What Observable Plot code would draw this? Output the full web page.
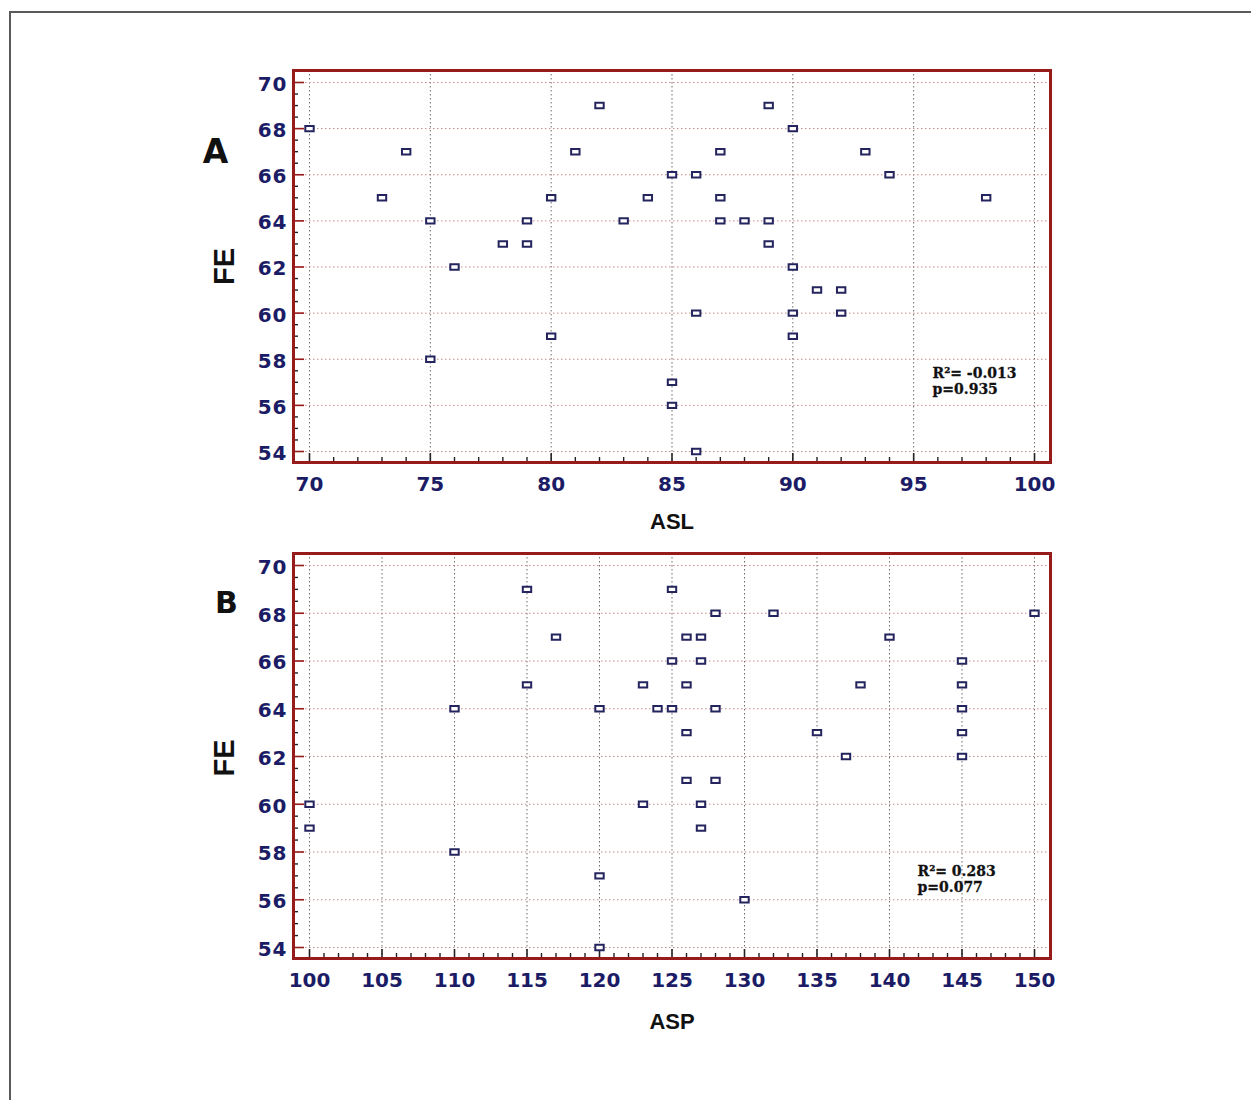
<!DOCTYPE html>
<html>
<head>
<meta charset="utf-8">
<script src="https://cdn.jsdelivr.net/npm/d3@7"></script>
<script src="https://cdn.jsdelivr.net/npm/@observablehq/plot@0.6"></script>
<style>
  html, body { margin: 0; padding: 0; background: #fff; }
  #wrap { position: relative; width: 1251px; height: 1100px; overflow: hidden; }
  #a { position: absolute; left: 0; top: 0; }
  #b { position: absolute; left: 0; top: 540px; }
  #border { position: absolute; left: 9px; top: 11px; right: 0; bottom: 0;
            border-top: 2px solid #5a5a5a; border-left: 2px solid #5a5a5a; pointer-events: none; }
  g[aria-label="y-axis tick label"] text { letter-spacing: 1px; }
</style>
</head>
<body>
<div id="wrap">
  <div id="a"></div>
  <div id="b"></div>
  <div id="border"></div>
</div>
<script>
// Panel A: ASL vs FE
const aslA = [70,73,74,75,75,76,78,79,79,80,80,81,82,83,84,85,85,85,86,86,86,87,87,87,88,89,89,89,90,90,90,90,91,92,92,93,94,98];
const feA  = [68,65,67,64,58,62,63,64,63,65,59,67,69,64,65,66,57,56,66,60,54,67,65,64,64,69,64,63,68,62,60,59,61,61,60,67,66,65];
// Panel B: ASP vs FE
const aspB = [100,100,110,110,115,115,117,120,120,120,123,123,124,125,125,125,126,126,126,126,127,127,127,127,128,128,128,130,132,135,137,138,140,145,145,145,145,145,150];
const feB  = [60,59,64,58,69,65,67,64,57,54,65,60,64,69,66,64,67,65,63,61,67,66,60,59,68,64,61,56,68,63,62,65,67,66,65,64,63,62,68];

const yTicks  = [54,56,58,60,62,64,66,68,70];
const xTicksA = [70,75,80,85,90,95,100];
const xTicksB = [100,105,110,115,120,125,130,135,140,145,150];
const panelLetters = ["A", "B"];
const xLabels = ["ASL", "ASP"];
const yLabel = "FE";
const statsA = ["R\u00B2= -0.013", "p=0.935"];
const statsB = ["R\u00B2= 0.283", "p=0.077"];

const navy = "#1c1c66";
const frameRed = "#981b1b";

function range(a, b, s) { const out = []; for (let v = a; v <= b + 1e-9; v += s) out.push(+v.toFixed(3)); return out; }

const rectSymbol = {
  draw(context) { context.rect(-4.2, -2.7, 8.4, 5.4); }
};

function panel(xs, ys, xTicks, xLabel, letter, stats, cfg) {
  const data = xs.map((x, i) => ({x, y: ys[i]}));
  const xDomain = [xTicks[0], xTicks[xTicks.length - 1]];
  const yMinor = range(54, 70, 0.5).filter(v => v % 2 !== 0);
  const xMinor = range(xDomain[0], xDomain[1], 1).filter(v => v % 5 !== 0);
  const narrow = "Liberation Sans Narrow, Arial Narrow, Liberation Sans, sans-serif";
  return Plot.plot({
    width: 1251,
    height: 540,
    marginLeft: 293,
    marginRight: 201,
    marginTop: cfg.marginTop,
    marginBottom: cfg.marginBottom,
    style: {fontFamily: "DejaVu Sans", background: "transparent", overflow: "visible"},
    x: {domain: xDomain, insetLeft: 16, insetRight: 16, label: null},
    y: {domain: [54, 70], insetTop: 12, insetBottom: 11, label: null},
    marks: [
      Plot.gridX(xTicks, {stroke: "#6e6e6e", strokeOpacity: 1, strokeDasharray: "1.5,2.5"}),
      Plot.gridY(yTicks, {stroke: "#c48a8a", strokeOpacity: 1, strokeDasharray: "1.5,2.5"}),
      // inward ticks
      Plot.axisY(yMinor, {anchor: "left", tickSize: -5, text: null, label: null, stroke: "#222", strokeWidth: 1.4}),
      Plot.axisY(yTicks, {anchor: "left", tickSize: -11, text: null, label: null, stroke: frameRed, strokeWidth: 1.6}),
      Plot.axisX(xMinor, {anchor: "bottom", tickSize: -5, text: null, label: null, stroke: "#222", strokeWidth: 1.4}),
      Plot.axisX(xTicks, {anchor: "bottom", tickSize: -9, text: null, label: null, stroke: "#222", strokeWidth: 1.6}),
      // tick labels
      Plot.axisY(yTicks, {anchor: "left", tickSize: 0, tickPadding: 6, fill: navy, fontSize: 20, fontWeight: "bold", dy: 2, label: null}),
      Plot.axisX(xTicks, {anchor: "bottom", tickSize: 0, tickPadding: 14, fill: navy, fontSize: 20, fontWeight: "bold", label: null}),
      Plot.frame({stroke: frameRed, strokeWidth: 3}),
      Plot.dot(data, {x: "x", y: "y", symbol: rectSymbol, stroke: "#24245e", strokeWidth: 2, fill: "white"}),
      // stats annotation
      Plot.text([stats[0]], {frameAnchor: "bottom-right", text: d => d, textAnchor: "start", lineAnchor: "bottom",
        dx: cfg.statDx, dy: cfg.statDy1, fontFamily: "DejaVu Serif", fontWeight: "bold", fontSize: 14, fill: "#111",
        stroke: "#111", strokeWidth: 0.3}),
      Plot.text([stats[1]], {frameAnchor: "bottom-right", text: d => d, textAnchor: "start", lineAnchor: "bottom",
        dx: cfg.statDx, dy: cfg.statDy2, fontFamily: "DejaVu Serif", fontWeight: "bold", fontSize: 14, fill: "#111",
        stroke: "#111", strokeWidth: 0.3}),
      // axis titles and panel letter
      Plot.text([xLabel], {frameAnchor: "bottom", text: d => d, textAnchor: "middle", lineAnchor: "bottom", dy: cfg.xLabelDy,
        fontFamily: narrow, fontWeight: "bold", fontSize: 22, fill: "#111"}),
      Plot.text([yLabel], {frameAnchor: "left", text: d => d, textAnchor: "middle", rotate: -90, dx: -69, dy: cfg.fePosDy,
        fontFamily: narrow, fontWeight: "bold", fontSize: 29, fill: "#111"}),
      Plot.text([letter], {frameAnchor: "top-left", text: d => d, textAnchor: "middle", lineAnchor: "bottom",
        dx: cfg.letterDx, dy: cfg.letterDy, fontFamily: "DejaVu Sans", fontWeight: "bold", fontSize: cfg.letterSize, fill: "#111"})
    ]
  });
}

document.getElementById("a").append(panel(aslA, feA, xTicksA, xLabels[0], panelLetters[0], statsA,
  {marginTop: 70, marginBottom: 78, statDx: -118, statDy1: -85, statDy2: -69, xLabelDy: 66, fePosDy: 0,
   letterDx: -78, letterDy: 92, letterSize: 33}));
document.getElementById("b").append(panel(aspB, feB, xTicksB, xLabels[1], panelLetters[1], statsB,
  {marginTop: 13, marginBottom: 122, statDx: -133, statDy1: -83, statDy2: -67, xLabelDy: 70, fePosDy: 2,
   letterDx: -67, letterDy: 59, letterSize: 30}));
</script>
</body>
</html>
